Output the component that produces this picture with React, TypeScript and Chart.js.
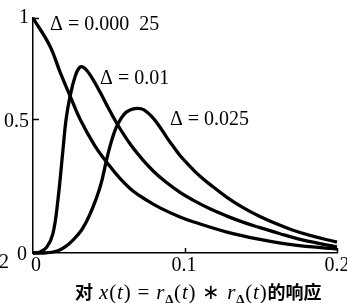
import React, { useEffect, useRef } from "react";
import { Chart, registerables } from "chart.js";

Chart.register(...registerables);

// Δ = 0.000 25
const tA = [0, 0.0112, 0.0178, 0.0243, 0.0309, 0.0408, 0.0493, 0.0572, 0.0658, 0.075, 0.0836, 0.0967, 0.1053, 0.1276, 0.1493, 0.1711, 0.2];
const vA = [1.0, 0.88, 0.77, 0.67, 0.57, 0.455, 0.38, 0.318, 0.264, 0.224, 0.192, 0.153, 0.133, 0.089, 0.058, 0.035, 0.017];

// Δ = 0.01
const tB = [0, 0.0046, 0.0092, 0.0132, 0.0164, 0.0197, 0.0217, 0.0243, 0.0276, 0.0309, 0.0342, 0.0388, 0.0441, 0.0487, 0.0553, 0.0638, 0.0724, 0.0789, 0.0868, 0.0967, 0.1053, 0.1164, 0.1276, 0.1395, 0.1493, 0.1625, 0.1757, 0.1888, 0.2];
const vB = [0, 0.004, 0.026, 0.085, 0.226, 0.438, 0.566, 0.664, 0.749, 0.791, 0.785, 0.745, 0.685, 0.628, 0.55, 0.465, 0.395, 0.35, 0.305, 0.258, 0.225, 0.188, 0.157, 0.128, 0.108, 0.082, 0.058, 0.04, 0.026];

// Δ = 0.025
const tC = [0, 0.0079, 0.0158, 0.0211, 0.0263, 0.0322, 0.0375, 0.0441, 0.0487, 0.0507, 0.0533, 0.0559, 0.0599, 0.0638, 0.0684, 0.073, 0.0789, 0.0836, 0.0882, 0.0921, 0.0967, 0.1053, 0.1099, 0.1164, 0.1276, 0.1382, 0.1493, 0.1605, 0.1711, 0.1822, 0.2];
const vC = [0, 0, 0.0085, 0.026, 0.055, 0.1, 0.165, 0.28, 0.405, 0.455, 0.51, 0.55, 0.59, 0.608, 0.615, 0.609, 0.575, 0.535, 0.49, 0.455, 0.415, 0.355, 0.327, 0.292, 0.237, 0.193, 0.155, 0.123, 0.097, 0.075, 0.046];

const xTickValues = [0, 0.1, 0.2];
const xTickLabels = ["0", "0.1", "0.2"];
const yTickValues = [0, 0.57, 1];
const yTickLabels = ["0", "0.5", "1"];
const curveLabels = ["Δ = 0.000\u200225", "Δ = 0.01", "Δ = 0.025"];

// styling / placement (not data)
const curveLabelAnchors = [
  [0.0112, 0.979],
  [0.0441, 0.749],
  [0.0901, 0.574],
];
const xLabelDx = [3, -1, 0];
const yLabelRight = [27, 29, 29];
const yLabelDy = [7, 7.5, 5];

const overlay = {
  id: "overlay",
  afterDraw(chart: any) {
    const ctx = chart.ctx as CanvasRenderingContext2D;
    const xs = chart.scales.x;
    const ys = chart.scales.y;
    ctx.save();
    ctx.strokeStyle = "#000";
    ctx.lineWidth = 1.5;
    xTickValues.forEach((v) => {
      if (v === 0) return;
      const px = Math.round(xs.getPixelForValue(v)) + 0.5;
      ctx.beginPath();
      ctx.moveTo(px, ys.bottom);
      ctx.lineTo(px, ys.bottom - 5);
      ctx.stroke();
    });
    yTickValues.forEach((v) => {
      if (v === 0) return;
      const py = Math.round(ys.getPixelForValue(v)) + 0.5;
      ctx.beginPath();
      ctx.moveTo(xs.left, py);
      ctx.lineTo(xs.left + 6, py);
      ctx.stroke();
    });
    ctx.fillStyle = "#000";
    ctx.font = "20px 'Liberation Serif'";
    ctx.textBaseline = "alphabetic";
    ctx.textAlign = "center";
    xTickValues.forEach((v, i) => {
      const px = xs.getPixelForValue(v);
      ctx.fillText(xTickLabels[i], px + xLabelDx[i], ys.bottom + 18);
    });
    ctx.textAlign = "right";
    yTickValues.forEach((v, i) => {
      const py = ys.getPixelForValue(v);
      ctx.fillText(yTickLabels[i], yLabelRight[i], py + yLabelDy[i]);
    });
    ctx.textAlign = "left";
    ctx.fillText("2", -1, 268);
    curveLabels.forEach((s, i) => {
      const px = xs.getPixelForValue(curveLabelAnchors[i][0]);
      const py = ys.getPixelForValue(curveLabelAnchors[i][1]);
      ctx.fillText(s, px, py + 7);
    });
    ctx.restore();
  },
};

export default function App() {
  const ref = useRef<HTMLCanvasElement | null>(null);
  useEffect(() => {
    if (!ref.current) return;
    const mk = (t: number[], v: number[]) => ({
      data: t.map((x, i) => ({ x, y: v[i] })),
      borderColor: "#000",
      borderWidth: 3.3,
      pointRadius: 0,
      tension: 0.4,
      fill: false,
      clip: false as any,
    });
    const chart = new Chart(ref.current, {
      type: "line",
      data: { datasets: [mk(tA, vA), mk(tB, vB), mk(tC, vC)] as any },
      options: {
        responsive: false,
        animation: false,
        devicePixelRatio: 1,
        layout: { padding: { top: 18, right: 10, left: 0, bottom: 0 } },
        plugins: { legend: { display: false }, tooltip: { enabled: false } },
        scales: {
          x: {
            type: "linear",
            min: 0,
            max: 0.2,
            grid: { display: false, drawTicks: false },
            ticks: { display: false },
            border: { display: true, color: "#000", width: 1.5 },
            afterFit: (s: any) => {
              s.height = 50;
            },
          },
          y: {
            type: "linear",
            min: 0,
            max: 1,
            grid: { display: false, drawTicks: false },
            ticks: { display: false },
            border: { display: true, color: "#000", width: 1.5 },
            afterFit: (s: any) => {
              s.width = 33;
            },
          },
        },
      } as any,
      plugins: [overlay],
    });
    return () => chart.destroy();
  }, []);

  const cjk: React.CSSProperties = { fontFamily: "'Noto Sans CJK SC'", fontWeight: 700, fontSize: 18 };
  const sub: React.CSSProperties = { fontSize: 13, position: "relative", top: 4, fontStyle: "normal", fontWeight: 700 };
  const lat: React.CSSProperties = { letterSpacing: 0.8 };
  return (
    <div style={{ position: "fixed", left: 0, top: 0, width: 347, height: 303, background: "#fff", overflow: "hidden" }}>
      <canvas ref={ref} width={347} height={303} style={{ position: "absolute", left: 0, top: 0, width: 347, height: 303 }} />
      <div
        style={{
          position: "absolute",
          left: 75,
          top: 279,
          whiteSpace: "nowrap",
          fontFamily: "'Liberation Serif'",
          fontSize: 21,
          lineHeight: "24px",
          color: "#000",
        }}
      >
        <span style={cjk}>对</span>
        <span style={lat}>
          {" "}
          <i>x</i>(<i>t</i>) = <i>r</i>
          <span style={sub}>Δ</span>(<i>t</i>) ∗ <i>r</i>
          <span style={sub}>Δ</span>(<i>t</i>)
        </span>
        <span style={cjk}>的响应</span>
      </div>
    </div>
  );
}
